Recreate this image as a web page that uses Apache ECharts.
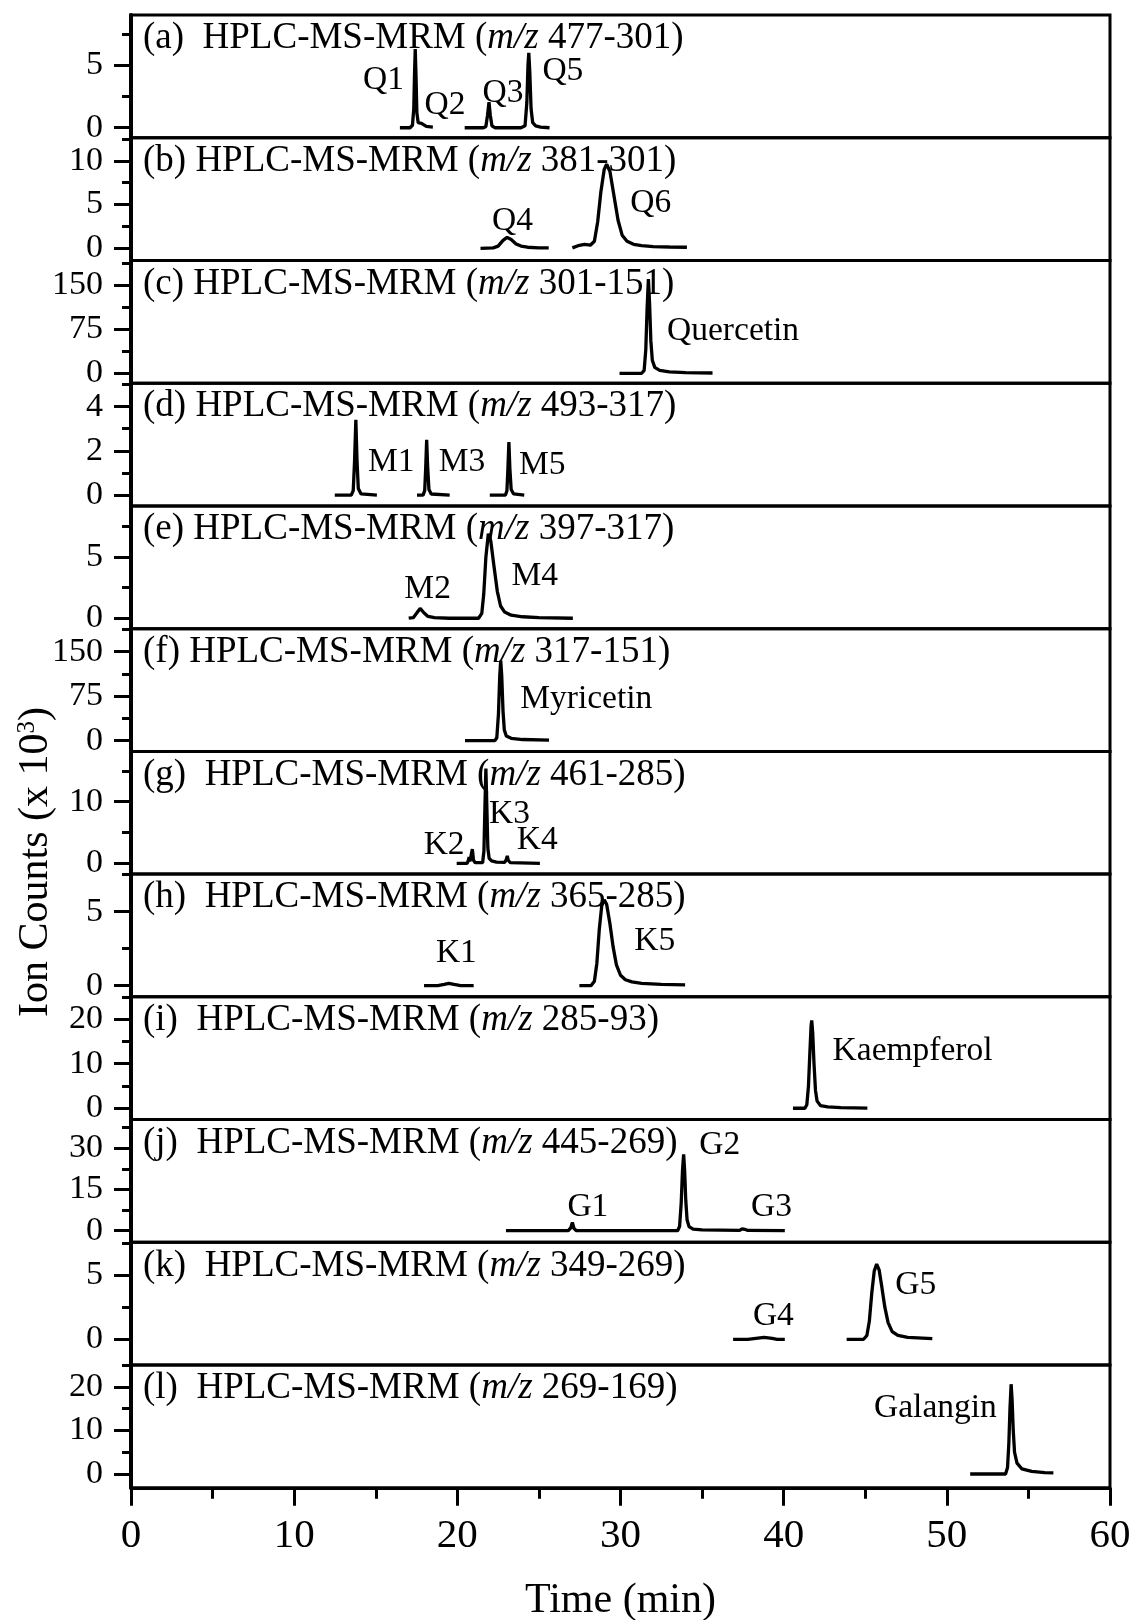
<!DOCTYPE html>
<html>
<head>
<meta charset="utf-8">
<script src="https://cdn.jsdelivr.net/npm/echarts@6/dist/echarts.min.js"></script>
<style>
  html, body { margin: 0; padding: 0; background: #fff; }
  #chart { width: 1135px; height: 1620px; }
</style>
</head>
<body>
<div id="chart"></div>
<script>
// panel titles (m/z transitions)
var panelIds = ['a', 'b', 'c', 'd', 'e', 'f', 'g', 'h', 'i', 'j', 'k', 'l'];
var ionPairs = ['477-301', '381-301', '301-151', '493-317', '397-317', '317-151',
                '461-285', '365-285', '285-93', '445-269', '349-269', '269-169'];
var idGap = ['  ', ' ', ' ', ' ', ' ', ' ', '  ', '  ', '  ', '  ', '  ', '  '];

// y ranges of each panel (x 10^3 counts)
var yMins = [-0.8, -1.39, -16.8, -0.49, -0.85, -18.0, -1.75, -0.76, -2.54, -4.22, -2.0, -3.14];
var yMaxs = [9.02, 12.63, 191.5, 5.06, 9.17, 188.9, 18.17, 7.54, 25.03, 40.44, 7.54, 25.0];
var majorTicks = [[0, 5], [0, 5, 10], [0, 75, 150], [0, 2, 4], [0, 5], [0, 75, 150],
                  [0, 10], [0, 5], [0, 10, 20], [0, 15, 30], [0, 5], [0, 10, 20]];
var minorTicks = [[2.5, 7.5], [2.5, 7.5, 12.5], [37.5, 112.5, 187.5], [1, 3, 5], [2.5, 7.5],
                  [37.5, 112.5, 187.5], [5, 15], [2.5, 7.5], [5, 15, 25], [7.5, 22.5, 37.5],
                  [2.5, 7.5], [5, 15, 25]];
var timeTicks = [0, 10, 20, 30, 40, 50, 60];

// chromatogram traces [time(min), counts]
var traceA1 = [[16.48,0],[17.1,0],[17.25,0.2],[17.33,1.5],[17.38,4.5],[17.42,6.3],[17.47,4.0],[17.52,1.2],[17.6,0.4],[17.7,0.3],[17.8,0.35],[17.9,0.2],[18.1,0.1],[18.5,0.05]];
var traceA2 = [[20.45,0],[21.6,0],[21.75,0.1],[21.85,1.0],[21.94,2.05],[22.02,1.0],[22.12,0.15],[22.3,0],[23.9,0],[24.15,0.15],[24.26,2.0],[24.33,5.0],[24.38,6.0],[24.44,4.5],[24.52,1.5],[24.62,0.4],[24.8,0.15],[25.1,0.05],[25.65,0]];
var traceB1 = [[21.42,0],[22.2,0.05],[22.5,0.25],[22.8,0.9],[23.05,1.25],[23.3,1.0],[23.6,0.5],[23.9,0.25],[24.3,0.12],[25.0,0.05],[25.6,0.05]];
var traceB2 = [[27.05,0.05],[27.4,0.3],[27.8,0.45],[28.15,0.35],[28.4,0.8],[28.6,3.0],[28.8,6.5],[29.0,9.0],[29.15,9.6],[29.35,8.8],[29.6,6.0],[29.85,3.2],[30.1,1.5],[30.4,0.8],[30.8,0.45],[31.3,0.3],[32.0,0.2],[33.0,0.15],[34.07,0.12]];
var traceC = [[29.94,0],[31.3,0],[31.45,5],[31.55,40],[31.63,110],[31.71,160],[31.78,120],[31.86,55],[31.95,22],[32.1,10],[32.4,5],[33.0,2.5],[34.0,1.2],[35.64,0.5]];
var traceD1 = [[12.49,0],[13.5,0],[13.62,0.2],[13.7,1.5],[13.78,3.4],[13.85,1.6],[13.93,0.3],[14.1,0.05],[15.07,0]];
var traceD2 = [[17.53,0],[17.9,0],[18.0,0.2],[18.06,1.2],[18.12,2.5],[18.18,1.3],[18.26,0.25],[18.4,0.05],[19.53,0]];
var traceD3 = [[21.99,0],[22.95,0],[23.04,0.2],[23.1,1.2],[23.16,2.4],[23.22,1.2],[23.3,0.25],[23.45,0.05],[24.1,0]];
var traceE = [[17.02,0],[17.3,0.05],[17.5,0.4],[17.72,0.8],[17.95,0.45],[18.2,0.15],[18.6,0.05],[19.5,0],[21.3,0],[21.5,0.4],[21.62,2.0],[21.75,5.0],[21.9,6.9],[22.05,6.3],[22.25,4.2],[22.45,2.2],[22.65,1.0],[22.9,0.5],[23.3,0.25],[24.0,0.12],[25.0,0.05],[27.08,0]];
var traceF = [[20.47,0],[22.3,0],[22.42,5],[22.52,45],[22.6,110],[22.66,135],[22.72,110],[22.8,50],[22.88,18],[23.0,8],[23.3,4],[24.0,2],[25.62,1]];
var traceG = [[19.96,0],[20.6,0],[20.68,0.5],[20.72,1.0],[20.77,0.3],[20.85,0.6],[20.92,2.3],[20.99,0.5],[21.1,0.1],[21.55,0.1],[21.63,2],[21.69,9],[21.75,15.4],[21.81,9],[21.87,2.5],[21.95,0.8],[22.1,0.4],[22.4,0.2],[22.9,0.15],[23.0,0.6],[23.06,1.2],[23.12,0.5],[23.25,0.1],[25.06,0]];
var traceH1 = [[17.96,0],[18.8,0],[19.2,0.08],[19.47,0.15],[19.8,0.08],[20.2,0],[21.0,0]];
var traceH2 = [[27.48,0],[28.2,0],[28.4,0.3],[28.55,1.5],[28.7,3.8],[28.85,5.4],[29.0,5.8],[29.15,5.5],[29.35,4.2],[29.55,2.6],[29.75,1.4],[30.0,0.7],[30.3,0.4],[30.7,0.25],[31.3,0.15],[32.5,0.08],[33.96,0.05]];
var traceI = [[40.57,0],[41.3,0],[41.42,0.8],[41.52,5],[41.6,12],[41.68,18.5],[41.72,19.75],[41.78,17],[41.86,10],[41.95,4],[42.05,1.6],[42.25,0.6],[42.7,0.3],[43.5,0.15],[45.13,0.05]];
var traceJ = [[22.98,0],[26.8,0],[26.95,1.0],[27.05,3.0],[27.15,0.8],[27.3,0],[33.5,0],[33.62,1.5],[33.72,10],[33.8,22],[33.87,27.8],[33.93,22],[34.0,11],[34.08,4],[34.2,1.5],[34.45,0.6],[35.0,0.3],[37.3,0.15],[37.45,0.7],[37.53,1.1],[37.62,0.5],[37.8,0.1],[40.07,0]];
var traceK1 = [[36.9,0],[37.8,0],[38.3,0.08],[38.8,0.15],[39.3,0.08],[39.6,0],[40.07,0]];
var traceK2 = [[43.86,0],[44.9,0],[45.1,0.3],[45.25,1.4],[45.4,3.6],[45.55,5.3],[45.7,5.85],[45.85,5.4],[46.0,4.2],[46.2,2.5],[46.4,1.3],[46.65,0.6],[47.0,0.3],[47.6,0.15],[49.11,0.05]];
var traceL = [[51.43,0.02],[53.6,0.02],[53.72,1.5],[53.8,7],[53.87,15],[53.94,20.6],[54.0,17],[54.07,10],[54.15,5],[54.3,2.5],[54.6,1.2],[55.2,0.6],[56.0,0.35],[56.53,0.25]];

var panelTraces = [[traceA1, traceA2], [traceB1, traceB2], [traceC], [traceD1, traceD2, traceD3],
                   [traceE], [traceF], [traceG], [traceH1, traceH2], [traceI], [traceJ],
                   [traceK1, traceK2], [traceL]];

// peak names: [panel, time, counts, text]
var peakLabels = [
  [0, 15.48, 3.8, 'Q1'], [0, 19.24, 1.8, 'Q2'], [0, 22.8, 2.75, 'Q3'], [0, 26.47, 4.5, 'Q5'],
  [1, 23.38, 3.15, 'Q4'], [1, 31.85, 5.1, 'Q6'],
  [2, 36.9, 72, 'Quercetin'],
  [3, 15.95, 1.5, 'M1'], [3, 20.29, 1.5, 'M3'], [3, 25.2, 1.36, 'M5'],
  [4, 18.18, 2.4, 'M2'], [4, 24.74, 3.4, 'M4'],
  [5, 27.9, 70, 'Myricetin'],
  [6, 19.19, 3.0, 'K2'], [6, 23.2, 8.0, 'K3'], [6, 24.9, 3.8, 'K4'],
  [7, 19.94, 2.2, 'K1'], [7, 32.1, 2.97, 'K5'],
  [8, 47.9, 12.8, 'Kaempferol'],
  [9, 28.0, 8.7, 'G1'], [9, 36.08, 31, 'G2'], [9, 39.25, 8.5, 'G3'],
  [10, 39.37, 1.83, 'G4'], [10, 48.1, 4.24, 'G5'],
  [11, 49.3, 15, 'Galangin']
];

var FONT = "'Liberation Serif', 'Times New Roman', serif";
var TOP = 15, PANEL_H = 122.73, LEFT = 131, RIGHT = 25;

var myChart = echarts.init(document.getElementById('chart'), null, { renderer: 'canvas' });

var grids = [], xAxes = [], yAxes = [], series = [], titles = [];
for (var i = 0; i < 12; i++) {
  var last = i === 11;
  grids.push({
    left: LEFT, right: RIGHT, top: TOP + i * PANEL_H, height: PANEL_H,
    outerBoundsMode: 'none', containLabel: false,
    show: true, borderColor: '#000', borderWidth: 3, backgroundColor: 'transparent'
  });
  xAxes.push({
    type: 'value', gridIndex: i, min: 0, max: 60, interval: 10, show: last,
    axisLine: { show: last, onZero: false, lineStyle: { color: '#000', width: 3 } },
    axisTick: { show: last, length: 18, lineStyle: { color: '#000', width: 3 } },
    minorTick: { show: last, splitNumber: 2, length: 11, lineStyle: { color: '#000', width: 3 } },
    axisLabel: { show: last, color: '#000', fontFamily: FONT, fontSize: 41, margin: 28 },
    splitLine: { show: false },
    name: last ? 'Time (min)' : '',
    nameLocation: 'middle', nameGap: 92,
    nameTextStyle: { color: '#000', fontFamily: FONT, fontSize: 42 }
  });
  // major ticks + labels
  yAxes.push({
    type: 'value', gridIndex: i, min: yMins[i], max: yMaxs[i], position: 'left',
    axisLine: { show: true, onZero: false, lineStyle: { color: '#000', width: 4 } },
    axisTick: { show: true, length: 17, customValues: majorTicks[i], lineStyle: { color: '#000', width: 3 } },
    axisLabel: { show: true, customValues: majorTicks[i], color: '#000', fontFamily: FONT, fontSize: 34, margin: 28 },
    splitLine: { show: false }
  });
  // minor ticks
  yAxes.push({
    type: 'value', gridIndex: i, min: yMins[i], max: yMaxs[i], position: 'left',
    axisLine: { show: false },
    axisTick: { show: true, length: 9, customValues: minorTicks[i], lineStyle: { color: '#000', width: 3 } },
    axisLabel: { show: false },
    splitLine: { show: false }
  });
  titles.push({
    text: '(' + panelIds[i] + ')' + idGap[i] + 'HPLC-MS-MRM ({it|m/z} ' + ionPairs[i] + ')',
    left: 143, top: TOP + i * PANEL_H + 5, padding: 0,
    textStyle: {
      color: '#000', fontFamily: FONT, fontSize: 37, fontWeight: 'normal',
      rich: { it: { fontStyle: 'italic', fontFamily: FONT, fontSize: 37, color: '#000' } }
    }
  });
  panelTraces[i].forEach(function (tr) {
    series.push({
      type: 'line', xAxisIndex: i, yAxisIndex: 2 * i, data: tr,
      showSymbol: false, symbol: 'none', silent: true, clip: false,
      lineStyle: { color: '#000', width: 3.3 }
    });
  });
  series.push({
    type: 'scatter', xAxisIndex: i, yAxisIndex: 2 * i, symbolSize: 0.01, silent: true,
    itemStyle: { color: '#000', opacity: 1 },
    label: {
      show: true, position: 'inside', color: '#000', fontFamily: FONT, fontSize: 33.5,
      textBorderWidth: 0, opacity: 1,
      formatter: function (p) { return p.name; }
    },
    data: peakLabels.filter(function (p) { return p[0] === i; }).map(function (p) {
      return { name: p[3], value: [p[1], p[2]] };
    })
  });
}

var option = {
  backgroundColor: '#fff',
  animation: false,
  title: titles,
  grid: grids,
  xAxis: xAxes,
  yAxis: yAxes,
  series: series,
  graphic: [{
    type: 'text', x: 36, y: 862, rotation: Math.PI / 2,
    style: {
      text: 'Ion Counts (x 10{sup|3})', fill: '#000', fontFamily: FONT, fontSize: 42,
      align: 'center', verticalAlign: 'middle',
      rich: { sup: { fontSize: 25, fontFamily: FONT, verticalAlign: 'top', fill: '#000' } }
    }
  }]
};
myChart.setOption(option);
</script>
</body>
</html>
